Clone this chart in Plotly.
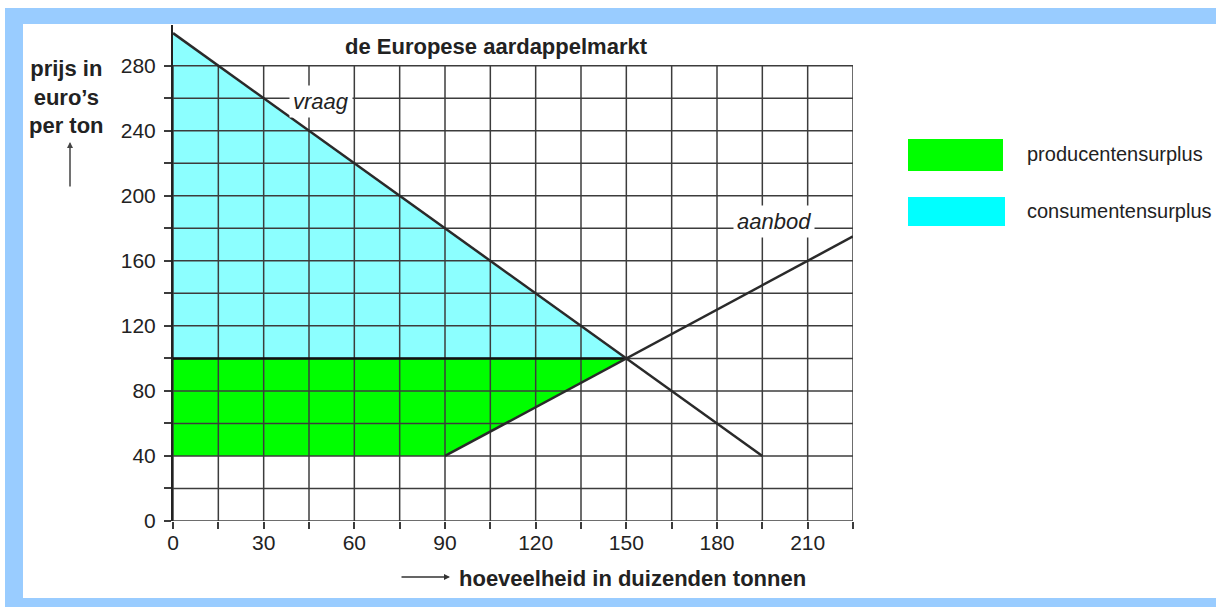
import plotly.graph_objects as go

# market data (prices in euro per ton, quantities in thousands of tons)
demand_q = [0, 195]
demand_p = [300, 40]
supply_q = [90, 225]
supply_p = [40, 175]
eq_q = 150
eq_p = 100
min_p = 40

cs_q = [0, eq_q, 0]
cs_p = [300, eq_p, eq_p]
ps_q = [0, eq_q, 90, 0]
ps_p = [eq_p, eq_p, min_p, min_p]

x_ticks = list(range(0, 226, 30))
x_minor = list(range(0, 226, 15))
y_ticks = list(range(0, 281, 40))
y_minor = list(range(0, 281, 20))

W, H = 1216, 607
L, R, T, B = 173, 853, 25, 521
X_MAX, Y_MAX = 225, 305


def px(x):
    return (x - L) / (R - L)


def py(y):
    return (B - y) / (B - T)


fig = go.Figure()

# surplus areas
fig.add_trace(go.Scatter(x=cs_q, y=cs_p, fill='toself', mode='lines',
                         fillcolor='#8cffff', line=dict(width=0), hoverinfo='skip'))
fig.add_trace(go.Scatter(x=ps_q, y=ps_p, fill='toself', mode='lines',
                         fillcolor='#00ff00', line=dict(width=0), hoverinfo='skip'))

# grid (stops at 280, axis line goes a bit higher)
gx, gy = [], []
for v in x_minor:
    gx += [v, v, None]
    gy += [0, y_minor[-1], None]
for v in y_minor:
    gx += [0, X_MAX, None]
    gy += [v, v, None]
fig.add_trace(go.Scatter(x=gx, y=gy, mode='lines', line=dict(color='#3c3c3c', width=1.5),
                         hoverinfo='skip'))

# price line at equilibrium
fig.add_trace(go.Scatter(x=[0, eq_q], y=[eq_p, eq_p], mode='lines',
                         line=dict(color='#111111', width=2.5), hoverinfo='skip'))

# demand and supply
fig.add_trace(go.Scatter(x=demand_q, y=demand_p, mode='lines',
                         line=dict(color='#2a2a2a', width=2.5)))
fig.add_trace(go.Scatter(x=supply_q, y=supply_p, mode='lines',
                         line=dict(color='#2a2a2a', width=2.5)))

fig.add_annotation(x=49, y=258, text='<i>vraag</i>', showarrow=False,
                   font=dict(size=22, color='#222'), bgcolor='white', borderpad=3)
fig.add_annotation(x=199, y=184, text='<i>aanbod</i>', showarrow=False,
                   font=dict(size=22, color='#222'), bgcolor='white', borderpad=3)

# frame around the picture
frame = '#99ccff'
for x0, y0, x1, y1 in [(5, 8, 23, 607), (5, 8, W, 24), (5, 598, W, 607)]:
    fig.add_shape(type='rect', xref='paper', yref='paper', layer='below',
                  x0=px(x0), x1=px(x1), y0=py(y1), y1=py(y0),
                  fillcolor=frame, line=dict(width=0))

# legend boxes
fig.add_shape(type='rect', xref='paper', yref='paper', x0=px(908), x1=px(1003),
              y0=py(171), y1=py(139), fillcolor='#00ff00', line=dict(width=0))
fig.add_shape(type='rect', xref='paper', yref='paper', x0=px(908), x1=px(1005),
              y0=py(226), y1=py(197), fillcolor='#00ffff', line=dict(width=0))
fig.add_annotation(xref='paper', yref='paper', x=px(1025), y=py(154), text='producentensurplus',
                   showarrow=False, xanchor='left', yanchor='middle',
                   font=dict(size=20, color='#222'))
fig.add_annotation(xref='paper', yref='paper', x=px(1025), y=py(211), text='consumentensurplus',
                   showarrow=False, xanchor='left', yanchor='middle',
                   font=dict(size=20, color='#222'))

# titles
fig.add_annotation(xref='paper', yref='paper', x=px(496), y=py(46), xanchor='center',
                   yanchor='middle', text='<b>de Europese aardappelmarkt</b>', showarrow=False,
                   font=dict(size=22, color='#222'))
fig.add_annotation(xref='paper', yref='paper', x=px(66), y=py(97), xanchor='center',
                   yanchor='middle', text='<b>prijs in<br>euro’s<br>per ton</b>',
                   showarrow=False, font=dict(size=22, color='#222'))
fig.add_annotation(xref='paper', yref='paper', x=px(70), y=py(142), ax=0, ay=46,
                   text='', showarrow=True, arrowhead=2, arrowsize=0.8, arrowwidth=1.5,
                   arrowcolor='#444')
fig.add_annotation(xref='paper', yref='paper', x=px(457), y=py(578), yanchor='middle',
                   text='<b>hoeveelheid in duizenden tonnen</b>', showarrow=False,
                   xanchor='left', font=dict(size=22, color='#222'))
fig.add_annotation(xref='paper', yref='paper', x=px(450), y=py(577), ax=-50, ay=0,
                   text='', showarrow=True, arrowhead=2, arrowsize=0.8, arrowwidth=1.5,
                   arrowcolor='#333')

tick_style = dict(ticks='outside', ticklen=7, tickcolor='#3c3c3c', tickwidth=1.5)

fig.update_layout(
    width=W, height=H,
    margin=dict(l=L, r=W - R, t=T, b=H - B),
    paper_bgcolor='white', plot_bgcolor='white',
    showlegend=False,
    font=dict(family='Liberation Sans, Arial, sans-serif', color='#222'),
    xaxis=dict(range=[0, X_MAX], tickmode='array', tickvals=x_ticks,
               minor=dict(tickmode='array', tickvals=x_minor, showgrid=False, **tick_style),
               showgrid=False, zeroline=False, showline=False, ticklabelstandoff=-4,
               tickfont=dict(size=21, color='#222'), **tick_style),
    yaxis=dict(range=[0, Y_MAX], tickmode='array', tickvals=y_ticks,
               minor=dict(tickmode='array', tickvals=y_minor, showgrid=False, **tick_style),
               showgrid=False, zeroline=False, ticklabelstandoff=4,
               showline=True, linecolor='#222', linewidth=2,
               tickfont=dict(size=21, color='#222'), **tick_style),
)

fig.write_html("out.html", config={'displayModeBar': False},
               post_script="document.body.style.margin='0';")
